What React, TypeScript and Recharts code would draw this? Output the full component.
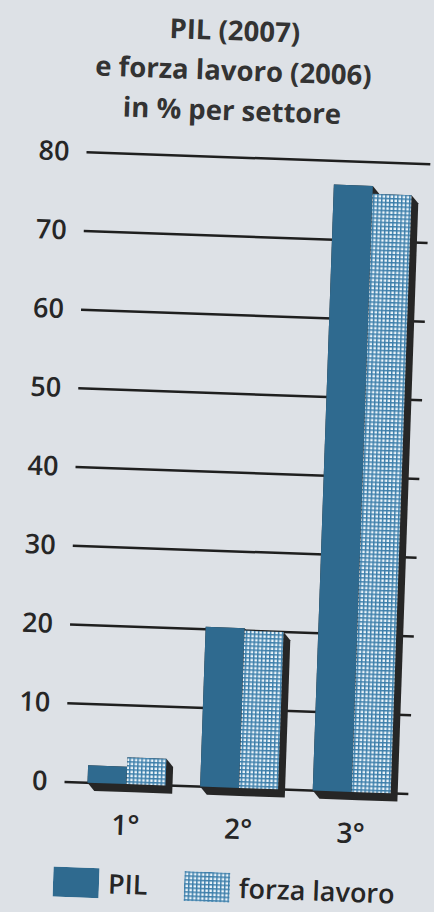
import React from "react";
import { Bar, BarChart, CartesianGrid, XAxis, YAxis } from "recharts";

// Settori e valori (in %)
const categories = ["1°", "2°", "3°"];
const pilValues = [2.2, 20.3, 77];
const forzaValues = [3.4, 20, 76];
const yTicks = [0, 10, 20, 30, 40, 50, 60, 70, 80];
const titleLines = ["PIL (2007)", "e forza lavoro (2006)", "in % per settore"];
const seriesNames = ["PIL", "forza lavoro"];

const PIL_COLOR = "#2f6a8f";
const GRID_COLOR = "#1f1f1f";
const SHADOW_COLOR = "#262626";
const TEXT_COLOR = "#262626";
const FONT = "'Open Sans', 'Noto Sans', sans-serif";

const data = categories.map((name, i) => ({
  name,
  pil: pilValues[i],
  forza: forzaValues[i],
}));

// barra con ombra "3D" spostata in basso a destra
function ShadowBar(props: any) {
  const { x, y, width, height, fill } = props;
  if (width == null || height == null) return null;
  const sx = 7;
  const sy = 8;
  const pts = [
    [x, y],
    [x + width, y],
    [x + width + sx, y + sy],
    [x + width + sx, y + height + sy],
    [x + sx, y + height + sy],
    [x, y + height],
  ]
    .map((p) => p.join(","))
    .join(" ");
  return (
    <g>
      <polygon points={pts} fill={SHADOW_COLOR} />
      <rect x={x} y={y} width={width} height={height} fill={fill} />
    </g>
  );
}

function YTick(props: any) {
  const { x, y, payload } = props;
  return (
    <text
      x={x}
      y={y}
      dx={-9}
      dy={9}
      textAnchor="end"
      fill={TEXT_COLOR}
      fontSize={27}
      fontWeight={600}
      fontFamily={FONT}
    >
      {payload.value}
    </text>
  );
}

function XTick(props: any) {
  const { x, y, payload } = props;
  return (
    <text
      x={x}
      y={y}
      dy={43}
      textAnchor="middle"
      fill={TEXT_COLOR}
      fontSize={28}
      fontWeight={600}
      fontFamily={FONT}
    >
      {payload.value}
    </text>
  );
}

// motivo a griglia della serie "forza lavoro"
function GridPattern({ id }: { id: string }) {
  return (
    <pattern id={id} width={4} height={4} patternUnits="userSpaceOnUse">
      <rect width={4} height={4} fill="#3c7eaa" />
      <rect x={1.5} y={1.5} width={2.5} height={2.5} fill="#eef6fb" />
    </pattern>
  );
}

function Swatch({ patterned }: { patterned: boolean }) {
  return (
    <svg width={46} height={30} style={{ display: "block" }}>
      <defs>
        <GridPattern id="legendGrid" />
      </defs>
      <rect width={46} height={30} fill={patterned ? "url(#legendGrid)" : PIL_COLOR} />
    </svg>
  );
}

export default function App() {
  return (
    <div
      style={{
        position: "fixed",
        left: 0,
        top: 0,
        width: 434,
        height: 912,
        overflow: "hidden",
        background: "#dde1e6",
      }}
    >
      <div
        style={{
          position: "absolute",
          left: 0,
          top: 0,
          width: 434,
          height: 912,
          transform: "rotate(2deg)",
          transformOrigin: "217px 456px",
        }}
      >
        {/* titolo su tre righe */}
        <div
          style={{
            position: "absolute",
            left: 20,
            top: 10,
            width: 400,
            textAlign: "center",
            fontFamily: FONT,
            fontWeight: 700,
            fontSize: 27.5,
            lineHeight: "40px",
            color: "#333",
          }}
        >
          {titleLines.map((t) => (
            <div key={t}>{t}</div>
          ))}
        </div>

        <div style={{ position: "absolute", left: 0, top: 0 }}>
          <BarChart
            width={434}
            height={912}
            data={data}
            margin={{ top: 157, right: 14, bottom: 95, left: 0 }}
            barGap={0}
            barSize={39}
          >
            <defs>
              <GridPattern id="forzaGrid" />
            </defs>
            <CartesianGrid
              vertical={false}
              stroke={GRID_COLOR}
              strokeWidth={2.5}
            />
            <XAxis
              dataKey="name"
              axisLine={false}
              tickLine={false}
              height={30}
              padding={{ left: 6, right: 0 }}
              tick={<XTick />}
            />
            <YAxis
              domain={[0, 80]}
              ticks={yTicks}
              width={76}
              axisLine={false}
              tickLine={false}
              tick={<YTick />}
            />
            <Bar
              dataKey="pil"
              name={seriesNames[0]}
              fill={PIL_COLOR}
              shape={<ShadowBar />}
              isAnimationActive={false}
            />
            <Bar
              dataKey="forza"
              name={seriesNames[1]}
              fill="url(#forzaGrid)"
              shape={<ShadowBar />}
              isAnimationActive={false}
            />
          </BarChart>
        </div>

        {/* legenda */}
        <div
          style={{
            position: "absolute",
            left: 68,
            top: 872,
            display: "flex",
            alignItems: "center",
            fontFamily: FONT,
            fontSize: 27,
            fontWeight: 600,
            color: TEXT_COLOR,
            lineHeight: "26px",
          }}
        >
          <Swatch patterned={false} />
          <span style={{ marginLeft: 9, width: 76 }}>{seriesNames[0]}</span>
          <Swatch patterned={true} />
          <span style={{ marginLeft: 9 }}>{seriesNames[1]}</span>
        </div>
      </div>
    </div>
  );
}
